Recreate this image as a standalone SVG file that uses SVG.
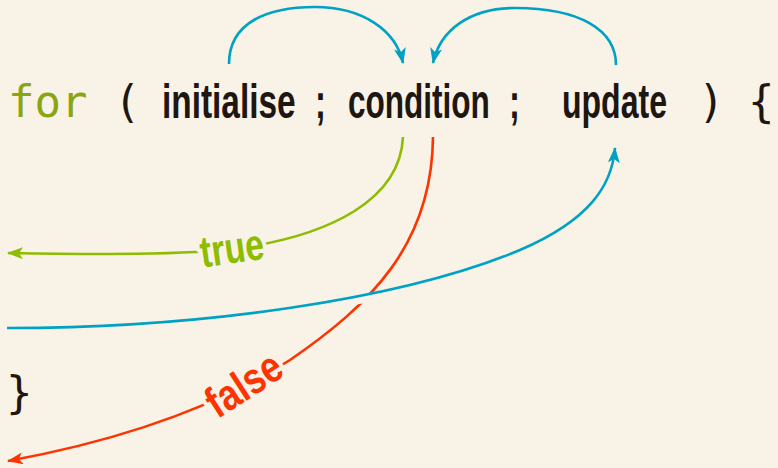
<svg xmlns="http://www.w3.org/2000/svg" width="778" height="468" viewBox="0 0 778 468">
<style>
.mono{font-family:"DejaVu Sans Mono","Liberation Mono",monospace;font-size:44px}
.kw{fill:#8aa510}
.dk{fill:#1e1611}
.cond{font-family:"Liberation Sans",Arial,sans-serif;font-weight:bold;font-size:40px;fill:#1e1611}
.lbl{font-family:"Liberation Sans",Arial,sans-serif;font-weight:bold;font-size:44px;stroke:#f8f2e7;stroke-width:10px;paint-order:stroke;stroke-linejoin:round}
.c{fill:none;stroke-width:2.6px}
.blue{stroke:#00a2c4}
.green{stroke:#8dbc00}
.red{stroke:#ff3300}
</style>
<defs>
<marker id="ab" viewBox="0 0 16 12" refX="15" refY="6" markerWidth="16" markerHeight="12" markerUnits="userSpaceOnUse" orient="auto"><path d="M0,0 L16,6 L0,12 L4,6 z" fill="#00a2c4"/></marker>
<marker id="ag" viewBox="0 0 16 12" refX="15" refY="6" markerWidth="16" markerHeight="12" markerUnits="userSpaceOnUse" orient="auto"><path d="M0,0 L16,6 L0,12 L4,6 z" fill="#8dbc00"/></marker>
<marker id="ar" viewBox="0 0 16 12" refX="15" refY="6" markerWidth="16" markerHeight="12" markerUnits="userSpaceOnUse" orient="auto"><path d="M0,0 L16,6 L0,12 L4,6 z" fill="#ff3300"/></marker>
</defs>
<rect width="778" height="468" fill="#f8f2e7"/>
<g id="connectors">
<path class="c blue" d="M229,64 C229,22 268,7 315,7 C362,7 396,30 403,63" marker-end="url(#ab)"/>
<path class="c blue" d="M616,65 C616,30 580,8 515,8 C470,8 440,30 433,63" marker-end="url(#ab)"/>
<path class="c green" d="M403,137 C400,200 330,235 240,248 C180,256 80,254 8,253" marker-end="url(#ag)"/>
<path class="c red" d="M433,137 C432,245 370,305 290,360 C235,395 150,435 8,461" marker-end="url(#ar)"/>
<path fill="none" stroke="#f8f2e7" stroke-width="9" d="M330,304 C350,301 370,298 390,294"/>
<path class="c blue" stroke-width="3" d="M7,328 C200,328 400,300 520,250 C590,220 612,185 615,148" marker-end="url(#ab)"/>
</g>
<g id="for"><text class="mono kw" x="8" y="117">for</text></g>
<g id="lparen"><text class="mono dk" x="114" y="117">(</text></g>
<g id="initialise"><text class="cond" transform="translate(162,118) scale(0.82,1.2)" textLength="163" lengthAdjust="spacingAndGlyphs">initialise</text></g>
<g id="semi1"><text class="cond" transform="translate(315,118) scale(0.82,1.2)">;</text></g>
<g id="condition"><text class="cond" transform="translate(348,118) scale(0.82,1.2)" textLength="173" lengthAdjust="spacingAndGlyphs">condition</text></g>
<g id="semi2"><text class="cond" transform="translate(509,118) scale(0.82,1.2)">;</text></g>
<g id="update"><text class="cond" transform="translate(562,118) scale(0.82,1.2)" textLength="128" lengthAdjust="spacingAndGlyphs">update</text></g>
<g id="rparen"><text class="mono dk" x="698" y="117">)</text></g>
<g id="lbrace"><text class="mono dk" x="748" y="117">{</text></g>
<g id="rbrace"><text class="mono dk" x="6" y="408">}</text></g>
<g id="true"><text class="lbl" fill="#8dbc00" transform="translate(234,263) rotate(-8) scale(0.82,1)" text-anchor="middle" textLength="78" lengthAdjust="spacingAndGlyphs">true</text></g>
<g id="false"><text class="lbl" fill="#ff3300" transform="translate(252,397) rotate(-33) scale(0.82,1)" text-anchor="middle" textLength="100" lengthAdjust="spacingAndGlyphs">false</text></g>
</svg>
